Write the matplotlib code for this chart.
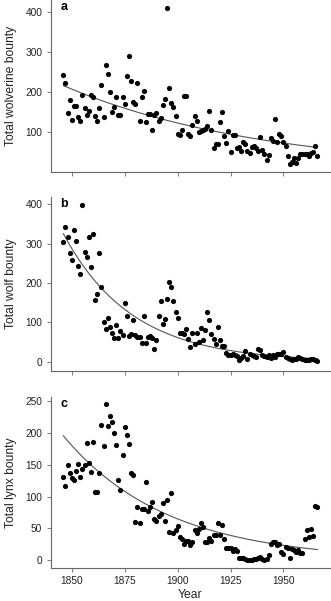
import numpy as np
import matplotlib.pyplot as plt

plt.rcParams['font.family'] = ['Liberation Sans', 'DejaVu Sans']

years = np.arange(1846, 1967)

wolverine = [242, 223, 148, 180, 129, 166, 164, 137, 127, 192,
             159, 142, 152, 192, 187, 139, 127, 160, 217, 137,
             268, 246, 201, 149, 162, 187, 142, 142, 189, 171,
             240, 291, 228, 174, 169, 222, 128, 189, 204, 125,
             145, 146, 104, 143, 148, 128, 134, 168, 183, 411,
             210, 172, 162, 139, 96, 93, 104, 191, 191, 96,
             89, 118, 139, 128, 99, 102, 104, 107, 114, 152,
             106, 61, 70, 71, 124, 149, 90, 72, 102, 51,
             93, 92, 60, 62, 52, 76, 69, 53, 47, 62,
             64, 61, 53, 88, 54, 46, 29, 42, 86, 77,
             132, 74, 96, 89, 74, 64, 39, 21, 24, 34,
             22, 34, 46, 46, 44, 46, 41, 47, 51, 64,
             39]

wolf = [305, 343, 316, 275, 259, 334, 306, 243, 222, 397,
        278, 267, 317, 240, 324, 158, 173, 275, 190, 101,
        82, 112, 89, 73, 61, 94, 60, 78, 67, 149,
        116, 65, 70, 105, 67, 64, 64, 47, 115, 47,
        62, 65, 60, 32, 56, 115, 154, 95, 109, 160,
        203, 189, 153, 127, 111, 72, 72, 70, 82, 57,
        37, 73, 46, 73, 50, 85, 56, 80, 127, 106,
        71, 57, 46, 89, 56, 40, 40, 21, 17, 17,
        19, 18, 14, 4, 9, 14, 27, 7, 19, 17,
        14, 13, 32, 29, 17, 14, 11, 16, 9, 17,
        13, 19, 19, 19, 24, 12, 9, 6, 4, 6,
        7, 11, 9, 7, 5, 5, 5, 7, 7, 4,
        2]

lynx = [131, 117, 149, 137, 129, 126, 140, 151, 131, 143,
        149, 185, 153, 139, 186, 108, 108, 137, 213, 179,
        246, 211, 227, 217, 200, 181, 126, 111, 166, 209,
        197, 183, 137, 134, 60, 83, 58, 81, 80, 123,
        78, 84, 91, 65, 61, 70, 72, 90, 61, 94,
        45, 106, 43, 47, 54, 37, 34, 25, 31, 31,
        24, 29, 48, 43, 49, 58, 53, 29, 29, 35,
        30, 40, 40, 58, 39, 56, 34, 19, 19, 19,
        15, 18, 15, 4, 3, 3, 2, 1, 0, 1,
        2, 2, 3, 5, 2, 1, 2, 9, 26, 29,
        28, 24, 26, 13, 10, 21, 19, 4, 17, 16,
        13, 16, 12, 12, 33, 47, 37, 49, 38, 86,
        84]

panels = [
    ('a', wolverine, 'Total wolverine bounty', [100, 200, 300, 400], (0, 431)),
    ('b', wolf, 'Total wolf bounty', [0, 100, 200, 300, 400], (-23, 418)),
    ('c', lynx, 'Total lynx bounty', [0, 50, 100, 150, 200, 250], (-12, 257)),
]
boxes = [(0.153, 0.714, 0.844, 0.286),
         (0.153, 0.383, 0.844, 0.289),
         (0.153, 0.055, 0.844, 0.285)]


def exp_fit(x, y, n_iter=100):
    # least squares fit of y = exp(b0 + b1*x), Gauss-Newton via IRLS
    X = np.column_stack([np.ones_like(x), x - x.mean()])
    beta = np.array([np.log(np.mean(y)), 0.0])
    for _ in range(n_iter):
        mu = np.exp(X @ beta)
        z = X @ beta + (y - mu) / mu
        W = mu ** 2
        beta = np.linalg.solve(X.T @ (W[:, None] * X), X.T @ (W * z))
    return np.exp(X @ beta)


fig = plt.figure(figsize=(3.31, 6.01), dpi=100)
for (lab, vals, ylabel, yticks, ylim), box in zip(panels, boxes):
    ax = fig.add_axes(box)
    vals = np.array(vals, dtype=float)
    ax.scatter(years, vals, s=14, color='black', zorder=3, linewidths=0)
    ax.plot(years, exp_fit(years.astype(float), vals), color='#555555', lw=0.8, zorder=2)
    ax.set_xlim(1840, 1972)
    ax.set_ylim(*ylim)
    ax.set_yticks(yticks)
    ax.set_xticks([1850, 1875, 1900, 1925, 1950])
    for s in ['top', 'right']:
        ax.spines[s].set_visible(False)
    for s in ['left', 'bottom']:
        ax.spines[s].set_color('#666666')
        ax.spines[s].set_linewidth(0.8)
    ax.tick_params(direction='out', length=3, width=0.6, color='#666666',
                   labelsize=7.3, labelcolor='#222222', pad=3)
    ax.set_ylabel(ylabel, fontsize=8.7, color='#222222', labelpad=6)
    ax.text(0.035, 0.995, lab, transform=ax.transAxes, fontsize=9,
            fontweight='bold', va='top', ha='left')
    if lab != 'c':
        ax.tick_params(labelbottom=False)
    else:
        ax.set_xlabel('Year', fontsize=8.7, color='#222222', labelpad=2)

fig.savefig('out.png', dpi=100)
